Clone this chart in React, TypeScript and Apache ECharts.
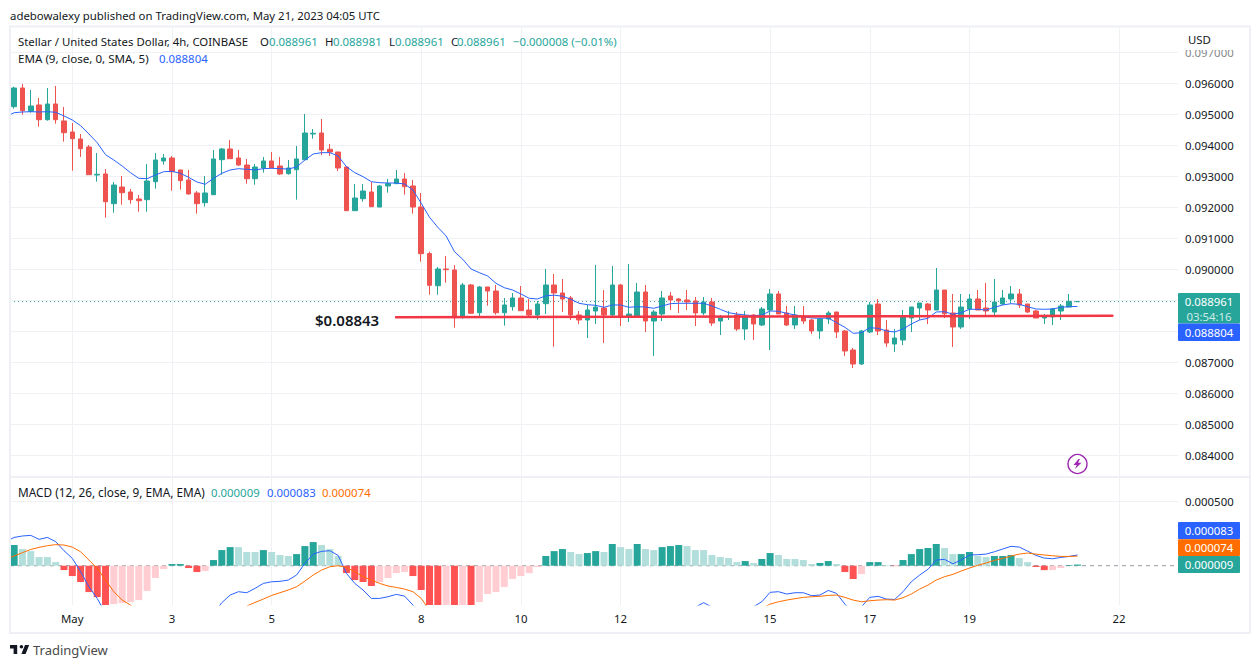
import React, { useEffect, useRef } from "react";
import * as echarts from "echarts";

// All price arrays are in millionths of a dollar, converted when the options are built.
const opens = [95249,95852,95100,95304,94829,95336,94788,94433,94207,93949,93045,93078,92120,92658,92497,92271,92249,92829,93497,93594,93207,92884,92465,92152,92410,93539,93884,93594,93368,92926,93271,93497,93336,93088,93216,93539,94368,94400,93875,93787,93303,91894,92281,92497,92011,92691,92765,92916,92691,92013,90510,89474,90013,89981,88475,89497,88603,89433,89303,88603,88797,89078,88690,88529,88894,89497,89239,89078,88529,88368,88658,88755,88529,89497,88455,88497,89271,88335,88561,89142,89046,89013,88981,88594,88949,88335,88455,88529,88078,88529,88206,88690,89207,88594,88206,88497,88368,88013,88400,88626,88013,87400,86948,87981,88884,88046,87594,87723,88432,88755,88884,88690,89335,88594,88142,88723,89046,88755,88626,88884,89046,89207,88884,88658,88432,88465,88658,88787,88961];
const closes = [95852,95120,95271,94829,95336,94829,94410,94217,93894,93055,93068,92184,92723,92475,92249,92216,92852,93529,93594,93152,92862,92433,92120,92465,93562,93884,93571,93368,92926,93303,93497,93271,93078,93271,93562,94400,94391,93852,93787,93271,91894,92303,92529,92023,92691,92765,92916,92668,92011,90507,89487,90013,89990,88442,89497,88584,89433,89303,88603,88852,89078,88668,88529,88884,89497,89239,89046,88529,88368,88690,88787,88529,89497,88465,88561,89271,88335,88626,89078,89013,88981,88949,88594,88949,88271,88465,88474,88078,88497,88239,88723,89207,88561,88206,88529,88335,88013,88400,88594,87981,87368,86948,88013,88852,88013,87626,87787,88465,88787,88916,88690,89335,88571,88142,88787,89046,88690,88658,88949,89078,89207,88852,88626,88432,88497,88723,88819,88969,88961];
const lows = [95184,94991,95055,94604,94797,94700,94120,93184,93626,93055,92829,91668,91829,92087,92120,91862,91862,92604,93378,92539,92571,92410,91797,92023,92410,93055,93571,93336,92765,92733,93120,93271,93045,93055,92249,93539,94217,93691,93658,93175,91894,91894,92184,92023,92011,92475,92765,92410,91797,90248,89184,89184,89571,88120,88410,88571,88465,88829,88539,88184,88668,88668,88474,88377,88561,87506,88626,88368,88239,87787,88239,87626,88497,88174,88303,88465,87981,87206,88335,88690,88594,88690,88174,88529,88174,87884,88368,88013,87723,87723,88174,87400,88561,88174,88078,88239,87916,87755,88239,87787,87206,86819,86916,87948,87884,87497,87336,87561,87981,88368,88239,88690,88432,87497,88078,88400,88690,88529,88529,88852,88916,88755,88594,88432,88239,88206,88368,88787,88961];
const highs = [95894,95981,95788,95530,95852,95917,95239,94723,94368,94013,93755,93239,92820,93013,92594,92400,93400,93755,93723,93658,93207,93207,92529,93013,93852,93917,94175,93852,93562,93400,93626,93787,93626,93529,93981,95013,94529,94852,94046,93787,93336,92755,92755,92820,92723,92916,93207,93110,92884,92465,90574,90077,90430,90142,89562,89529,89465,89433,89497,89078,89239,89465,89046,88981,90013,89852,89691,89142,88658,88852,90142,89335,90110,89529,90175,89562,89497,88690,89303,89271,89078,89335,89110,89110,89078,88529,88658,88626,88658,88561,88787,89368,89303,88819,88819,88819,88400,88432,88658,88626,88046,87465,88046,88949,89046,88368,88078,88690,88787,88916,88916,90045,89335,89207,89207,89207,89335,89562,89691,89335,89465,89368,88884,88690,88561,88755,88884,89207,88981];
const emaBefore = 94926;
const ema = [95055,95078,95088,95078,95088,95068,94949,94820,94636,94368,94087,93700,93529,93336,93120,92939,92926,93045,93152,93165,93100,92971,92820,92745,92939,93100,93207,93249,93229,93207,93249,93262,93249,93239,93303,93529,93723,93765,93765,93658,93313,93120,92991,92829,92797,92787,92787,92755,92562,92133,91681,91359,91078,90572,90326,90013,89894,89787,89552,89410,89336,89207,89068,89046,89149,89168,89136,89039,88907,88862,88842,88778,88852,88852,88778,88797,88787,88745,88819,88894,88907,88907,88907,88907,88819,88713,88603,88561,88529,88507,88529,88658,88649,88584,88529,88474,88432,88423,88432,88281,88132,87939,87958,88119,88100,88013,87981,88078,88239,88368,88423,88626,88636,88552,88603,88713,88713,88690,88778,88852,88894,88874,88797,88723,88713,88723,88778,88797,88804];
const supportLine = [88454, 88507];
const supportLabel = "$0.08843";
const lastPrice = 88961;

// MACD pane, also in millionths.
const histogram = [160,129,113,67,67,28,-34,-80,-126,-204,-243,-330,-297,-289,-281,-266,-196,-95,-26,13,13,-18,-49,-41,44,121,144,144,106,106,121,106,83,75,90,152,183,160,129,75,-57,-111,-126,-157,-126,-95,-57,-49,-80,-188,-350,-420,-400,-390,-360,-340,-281,-219,-204,-165,-103,-80,-57,-10,75,113,129,106,90,98,113,106,168,144,129,168,129,121,144,152,160,152,121,121,83,67,59,28,36,21,52,98,83,52,52,44,13,21,36,13,-49,-103,-65,28,28,5,-3,44,90,129,137,168,137,90,90,106,75,67,75,75,83,59,28,-10,-34,-34,-18,5,9];
const histogramShade = [..."dlllll" + "dddddd" + "lllllll" + "dddd" + "l" + "ddd" + "lll" + "d" + "lll" + "ddd" + "lll" + "dddd" + "llll" + "dddd" + "l" + "d" + "l" + "d" + "llllllll" + "ddd" + "ll" + "dd" + "l" + "d" + "ll" + "d" + "ll" + "ddd" + "lllllll" + "d" + "l" + "dd" + "lllll" + "dd" + "l" + "dd" + "l" + "dd" + "l" + "dddddd" + "ll" + "dd" + "ll" + "ddd" + "ll" + "dd" + "ll" + "dd"];
const nulls = (n: number) => new Array(n).fill(null);
const macdBefore = 186;
const macdLine = [219,230,235,204,219,186,116,57,-46,-163,-253,-369,...nulls(12),-369,-286,-227,-201,-209,-175,-137,-124,-121,-111,-72,18,90,111,116,80,-59,-137,-188,-253,-253,-240,-222,-235,-304,-400,...nulls(32),-320,-286,-320,...nulls(3),-350,-317,-279,-206,-201,-219,-209,-209,-232,-227,-191,-214,-297,-369,-317,-245,-237,-258,-261,-201,-124,-72,-28,44,49,15,44,83,85,90,108,129,150,144,113,80,59,54,64,72,83];
const signalBefore = 52;
const signalLine = [75,101,126,142,155,163,160,144,108,44,-21,-111,-201,-266,-304,-369,...nulls(12),-312,-284,-258,-230,-209,-188,-163,-119,-72,-34,-8,0,-13,-46,-85,-111,-137,-157,-168,-181,-201,-253,-343,...nulls(39),-330,-297,-279,-266,-255,-245,-240,-237,-230,-227,-245,-266,-279,-271,-266,-263,-266,-248,-219,-181,-150,-111,-85,-67,-41,-18,3,21,41,57,75,90,98,90,83,77,72,72,74];

// Time axis: candle index of each labelled date.
const dateTicks = [7, 19, 31, 49, 61, 73, 91, 103, 115, 133];
const dateLabels = ["May", "3", "5", "8", "10", "12", "15", "17", "19", "22"];
const priceTicks = [0.084,0.085,0.086,0.087,0.088,0.089,0.09,0.091,0.092,0.093,0.094,0.095,0.096,0.097];
const macdTicks = [0.0005];

const GREEN = "#26a69a";
const RED = "#ef5350";
const BLUE = "#2962ff";
const ORANGE = "#ff6d00";
const GRIDC = "#f0f1f5";
const INK = "#131722";
const FONT = "'Noto Sans', sans-serif";
const SMALL = 11.4;
const LOGO = "M14 6H2v6h6v9h6V6Zm14 15h-7l6-15h7l-6 15Zm-7-9a3 3 0 1 0 0-6 3 3 0 0 0 0 6Z";
const BOLT = "M5 0L0 6h3.2L1.5 10 8 3.8H4.6L6.4 0Z";

echarts.graphic.registerShape("tvmark", echarts.graphic.extendPath(LOGO, {}) as any);
echarts.graphic.registerShape("bolt", echarts.graphic.extendPath(BOLT, {}) as any);

const usd = (v: number | null) => (v === null ? null : v / 1e6);
const withBefore = (before: number, arr: (number | null)[]) => [
  [-1, usd(before)],
  ...arr.map((v, i) => [i, usd(v)]),
];

function txt(text: string, x: number, y: number, fill = INK, size = SMALL, extra: any = {}) {
  return {
    type: "text",
    x,
    y,
    z: 120,
    silent: true,
    style: { text, fill, font: `${size}px ${FONT}`, textVerticalAlign: "middle", ...extra },
  };
}
function box(label: string, y: number, h: number, fill: string) {
  return [
    { type: "rect", z: 110, silent: true, shape: { x: 1178, y, width: 62, height: h, r: 1 }, style: { fill } },
    txt(label, 1209, y + h / 2, "#ffffff", SMALL, { textAlign: "center" }),
  ];
}

export default function App() {
  const ref = useRef<HTMLDivElement>(null);
  useEffect(() => {
    document.body.style.margin = "0";
    const chart = echarts.init(ref.current!, undefined, { renderer: "svg" });

    const xBase = (gridIndex: number, showLabels: boolean) => ({
      type: "value",
      gridIndex,
      min: -0.5,
      max: 140.1,
      axisLine: { show: false },
      axisTick: { show: false, customValues: dateTicks },
      axisLabel: {
        show: showLabels,
        customValues: dateTicks,
        color: INK,
        fontFamily: FONT,
        fontSize: SMALL,
        margin: 8,
        formatter: (v: number) => dateLabels[dateTicks.indexOf(Math.round(v))] ?? "",
      },
      splitLine: { show: true, lineStyle: { color: GRIDC, width: 1 } },
    });
    const yBase = (gridIndex: number, min: number, max: number, ticks: number[]) => ({
      type: "value",
      gridIndex,
      position: "right",
      min,
      max,
      axisLine: { show: false },
      axisTick: { show: false, customValues: ticks },
      axisLabel: {
        customValues: ticks,
        color: INK,
        fontFamily: FONT,
        fontSize: SMALL,
        margin: 7,
        formatter: (v: number) => v.toFixed(6),
      },
      splitLine: { show: true, lineStyle: { color: GRIDC, width: 1 } },
    });

    const candleData = opens.map((o, i) => {
      const item: any = { value: [i, usd(o), usd(closes[i]), usd(lows[i]), usd(highs[i])] };
      if (i === opens.length - 1) item.itemStyle = { color0: GREEN, borderColor0: GREEN, color: GREEN, borderColor: GREEN, borderColorDoji: GREEN };
      return item;
    });

    const histColor = (v: number, s: string) =>
      v >= 0 ? (s === "d" ? GREEN : "#b2dfdb") : s === "d" ? "#ff5252" : "#ffcdd2";

    chart.setOption({
      animation: false,
      backgroundColor: "#ffffff",
      grid: [
        { left: 10, top: 28, width: 1168, height: 449, containLabel: false },
        { left: 10, top: 477, width: 1168, height: 128, containLabel: false },
      ],
      xAxis: [xBase(0, false), xBase(1, true)],
      yAxis: [yBase(0, 0.0833033, 0.0977871, priceTicks), yBase(1, -0.000304, 0.0006865, macdTicks)],
      series: [
        {
          name: "Last",
          type: "line",
          xAxisIndex: 0,
          yAxisIndex: 0,
          showSymbol: false,
          silent: true,
          data: [[-0.5, usd(lastPrice)], [140.1, usd(lastPrice)]],
          lineStyle: { color: GREEN, width: 1, type: [1, 3] },
          z: 1,
        },
        {
          name: "XLMUSD",
          type: "candlestick",
          xAxisIndex: 0,
          yAxisIndex: 0,
          barWidth: 5,
          data: candleData,
          itemStyle: { color: GREEN, color0: RED, borderColor: GREEN, borderColor0: RED, borderWidth: 1 },
          z: 2,
        },
        {
          name: "EMA",
          type: "line",
          xAxisIndex: 0,
          yAxisIndex: 0,
          showSymbol: false,
          data: withBefore(emaBefore, ema),
          lineStyle: { color: BLUE, width: 1 },
          z: 3,
        },
        {
          name: "Support",
          type: "line",
          xAxisIndex: 0,
          yAxisIndex: 0,
          showSymbol: false,
          data: [[45.97, usd(supportLine[0])], [132.2, usd(supportLine[1])]],
          lineStyle: { color: "#f23645", width: 2.5, cap: "round" },
          z: 4,
        },
        {
          name: "Zero",
          type: "line",
          xAxisIndex: 1,
          yAxisIndex: 1,
          showSymbol: false,
          data: [[-0.5, 0], [140.1, 0]],
          lineStyle: { color: "#9598a1", width: 1, type: [4, 4] },
          z: 1,
        },
        {
          name: "Histogram",
          type: "bar",
          xAxisIndex: 1,
          yAxisIndex: 1,
          barWidth: 7,
          data: histogram.map((v, i) => ({
            value: [i, usd(v)],
            itemStyle: { color: histColor(v, histogramShade[i]) },
          })),
          z: 2,
        },
        {
          name: "MACD",
          type: "line",
          xAxisIndex: 1,
          yAxisIndex: 1,
          showSymbol: false,
          data: withBefore(macdBefore, macdLine),
          lineStyle: { color: BLUE, width: 1 },
          z: 3,
        },
        {
          name: "Signal",
          type: "line",
          xAxisIndex: 1,
          yAxisIndex: 1,
          showSymbol: false,
          data: withBefore(signalBefore, signalLine),
          lineStyle: { color: ORANGE, width: 1 },
          z: 3,
        },
      ],
      graphic: {
        elements: [
          { type: "rect", z: 90, silent: true, shape: { x: 10, y: 26.5, width: 1240, height: 606.5 }, style: { fill: "none", stroke: "#eef0f5", lineWidth: 2 } },
          { type: "line", z: 90, silent: true, shape: { x1: 10, y1: 477, x2: 1250, y2: 477 }, style: { stroke: "#eef0f5", lineWidth: 2 } },
          { type: "rect", z: 100, silent: true, shape: { x: 1180, y: 28, width: 68, height: 22 }, style: { fill: "#ffffff" } },
          { type: "rect", z: 100, silent: true, shape: { x: 1180, y: 50, width: 68, height: 9 }, style: { fill: "#ffffff", opacity: 0.45 } },

          txt("adebowalexy published on TradingView.com, May 21, 2023 04:05 UTC", 10, 15, INK),
          txt("Stellar / United States Dollar, 4h, COINBASE", 18, 41, INK),
          txt("O", 260, 41),
          txt("0.088961", 269, 41, GREEN),
          txt("H", 325, 41),
          txt("0.088981", 333, 41, GREEN),
          txt("L", 389, 41),
          txt("0.088961", 395, 41, GREEN),
          txt("C", 451, 41),
          txt("0.088961", 457, 41, GREEN),
          txt("\u22120.000008 (\u22120.01%)", 513, 41, GREEN),
          txt("EMA (9, close, 0, SMA, 5)", 18, 58, INK, 11.6),
          txt("0.088804", 159, 58, BLUE),
          txt("MACD (12, 26, close, 9, EMA, EMA)", 18, 492, INK, 11.8),
          txt("0.000009", 211, 492, GREEN),
          txt("0.000083", 267, 492, BLUE),
          txt("0.000074", 322, 492, ORANGE),
          txt("USD", 1188, 39.5),
          {
            type: "text",
            x: 315,
            y: 320,
            z: 120,
            silent: true,
            style: { text: supportLabel, fill: INK, font: `600 15px ${FONT}`, textVerticalAlign: "middle" },
          },

          { type: "rect", z: 110, silent: true, shape: { x: 1178, y: 293, width: 62, height: 30.5, r: 1 }, style: { fill: GREEN } },
          txt("0.088961", 1209, 301, "#ffffff", SMALL, { textAlign: "center" }),
          txt("03:54:16", 1209, 316, "#cdeae7", SMALL, { textAlign: "center" }),
          ...box("0.088804", 323.5, 17.5, BLUE),
          ...box("0.000083", 522, 17.3, BLUE),
          ...box("0.000074", 539.3, 16.7, ORANGE),
          ...box("0.000009", 556, 17, GREEN),

          { type: "circle", z: 110, silent: true, shape: { cx: 1077.5, cy: 464, r: 9.5 }, style: { fill: "#ffffff", stroke: "#9c27b0", lineWidth: 1.4 } },
          { type: "bolt", z: 111, silent: true, x: 1073.5, y: 459, scaleX: 1, scaleY: 1, style: { fill: "#9c27b0" } },

          { type: "tvmark", z: 110, silent: true, x: 8.8, y: 641.4, scaleX: 0.6, scaleY: 0.6, style: { fill: "#131722" } },
          txt("TradingView", 33, 650, "#4a4a4a", 13),
        ],
      },
    });

    return () => chart.dispose();
  }, []);
  return <div ref={ref} style={{ position: "fixed", left: 0, top: 0, width: 1260, height: 668, background: "#fff" }} />;
}
